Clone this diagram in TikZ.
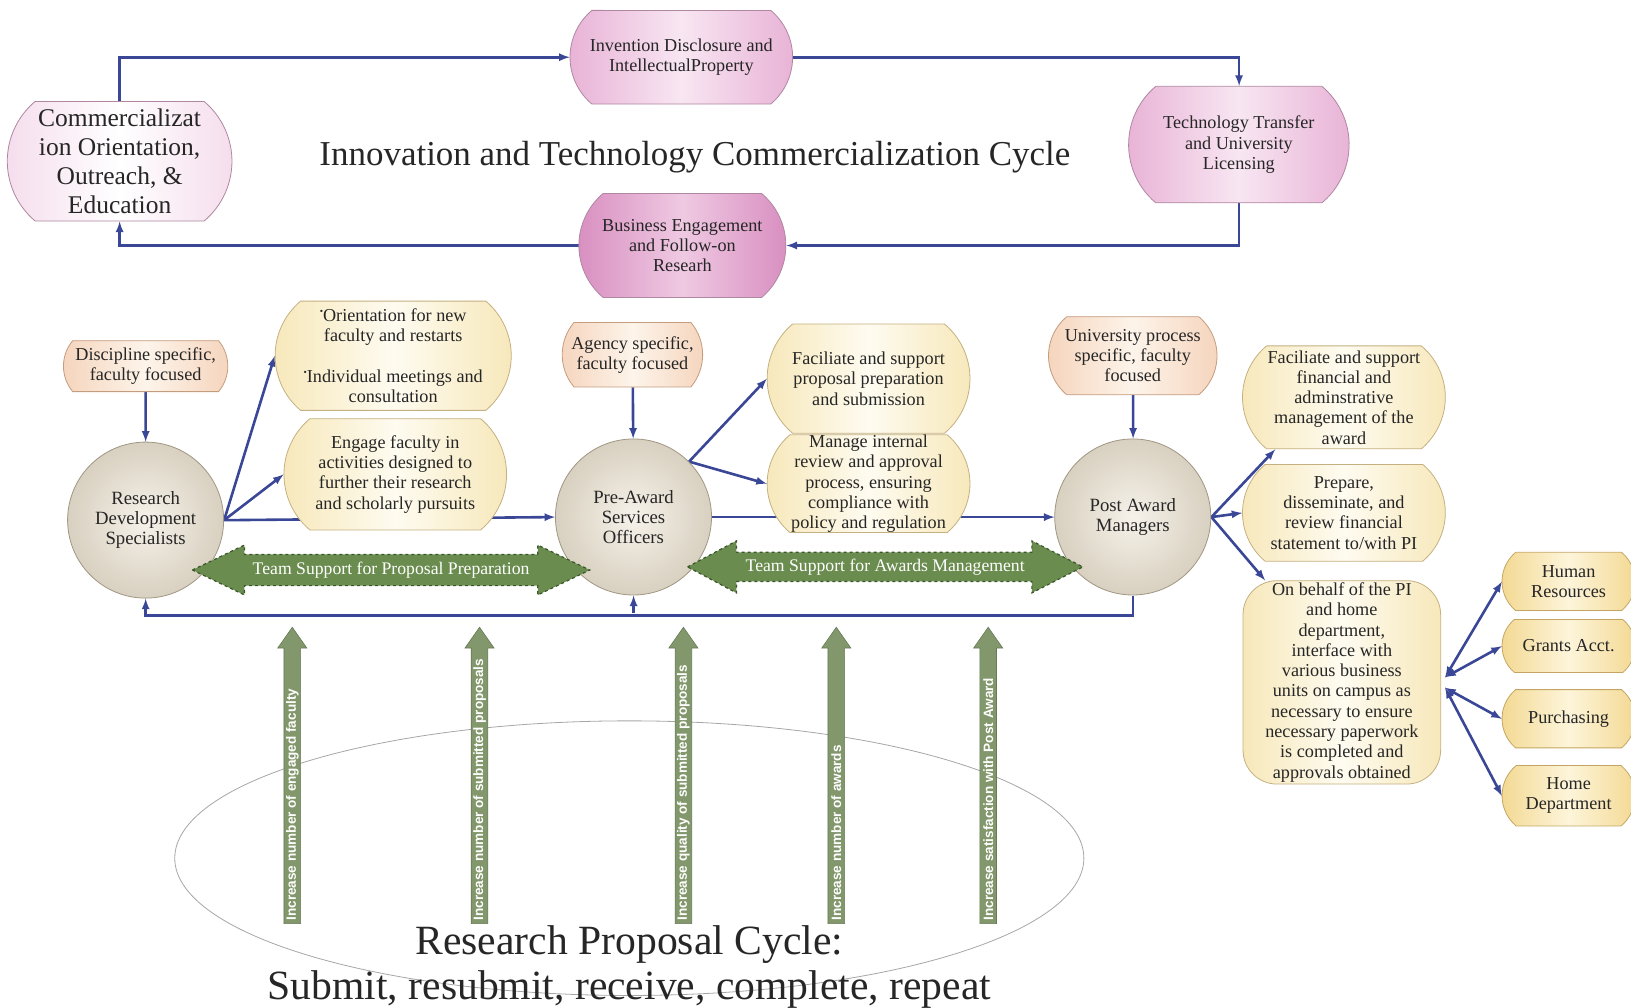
\documentclass[tikz,border=0pt]{standalone}
\usepackage{fontspec}
\setmainfont{Liberation Serif}
\newfontfamily\goalfont{Liberation Sans}
\usetikzlibrary{shapes.misc, backgrounds}

\definecolor{flowblue}{RGB}{58,70,150}
\definecolor{pinkedge}{RGB}{232,178,214}
\definecolor{pinkmid}{RGB}{248,230,242}
\definecolor{pinkdeep}{RGB}{216,142,192}
\definecolor{pinkline}{RGB}{175,135,160}
\definecolor{peachedge}{RGB}{245,212,188}
\definecolor{peachmid}{RGB}{253,244,234}
\definecolor{peachline}{RGB}{196,156,126}
\definecolor{creamedge}{RGB}{247,232,186}
\definecolor{creammid}{RGB}{254,251,240}
\definecolor{creamline}{RGB}{196,176,128}
\definecolor{goldedge}{RGB}{243,216,146}
\definecolor{goldmid}{RGB}{253,245,218}
\definecolor{goldline}{RGB}{196,166,98}
\definecolor{stonein}{RGB}{246,242,234}
\definecolor{stoneout}{RGB}{216,208,192}
\definecolor{stoneline}{RGB}{160,150,130}
\definecolor{teamgreen}{RGB}{106,140,78}
\definecolor{teamline}{RGB}{58,86,42}
\definecolor{goalgreen}{RGB}{130,152,108}

\newcommand{\bulletdot}{\raisebox{0.4em}{\fontsize{9}{9}\selectfont\textbullet}}

\tikzset{
	box/.style={rounded rectangle, rounded rectangle arc length=100, align=center, inner xsep=0pt, inner ysep=2pt, line width=0.8pt, text=black!85, font=\fontsize{17.5}{19.5}\selectfont},
	pinkbox/.style={box, draw=pinkline, left color=pinkedge, right color=pinkedge, middle color=pinkmid},
	peachbox/.style={box, rounded rectangle arc length=80, draw=peachline, left color=peachedge, right color=peachedge, middle color=peachmid},
	creambox/.style={box, draw=creamline, left color=creamedge, right color=creamedge, middle color=creammid},
	goldbox/.style={box, draw=goldline, left color=goldedge, right color=goldedge, middle color=goldmid},
	staff/.style={circle, minimum size=150, inner sep=0pt, draw=stoneline, line width=0.8pt, inner color=stonein, outer color=stoneout, align=center, text=black!85, font=\fontsize{18}{19.5}\selectfont},
	flow/.style={->, flowblue, line width=2.6pt},
	teamarrow/.style={fill=teamgreen, draw=teamline, dashed, line width=1.2pt},
	teamtext/.style={text=white, inner sep=0pt, font=\fontsize{17}{19}\selectfont},
	goalarrow/.style={fill=goalgreen, draw=goalgreen!80!black, line width=0.6pt},
	goaltext/.style={rotate=90, anchor=west, text=white, inner sep=0pt, font=\goalfont\bfseries\fontsize{13}{13}\selectfont},
	cyclering/.style={draw=gray!70, line width=0.8pt},
}

\begin{document}
\begin{tikzpicture}[x=1pt, y=-1pt, scale=1.04, transform shape, >=latex]
		\useasboundingbox (0, 0) rectangle (1568, 969);

		\node [pinkbox, left color=pinkedge!45, right color=pinkedge!45, middle color=white, inner xsep=-3pt, minimum width=210, minimum height=115, font=\fontsize{24.5}{28}\selectfont] (comm) at (115, 155) {Commercializat\\ion Orientation,\\Outreach, \&\\Education};
		\node [pinkbox, minimum width=214, minimum height=90] (invent) at (655, 55) {Invention Disclosure and\\IntellectualProperty};
		\node [pinkbox, minimum width=212, minimum height=112] (tech) at (1191, 139) {Technology Transfer\\and University\\Licensing};
		\node [pinkbox, left color=pinkdeep, right color=pinkdeep, middle color=pinkedge!70, inner xsep=-18pt, minimum width=163, minimum height=100] (business) at (656, 236) {Business Engagement\\and Follow-on\\Researh};
		\node [text=black!85, font=\fontsize{33.6}{40}\selectfont] (title) at (668, 151) {Innovation and Technology Commercialization Cycle};

		\node [peachbox, inner xsep=-4pt, minimum width=150, minimum height=49] (disc) at (140, 352) {Discipline specific,\\faculty focused};
		\node [creambox, minimum width=227, minimum height=105] (orient) at (378, 342) {\bulletdot Orientation for new\\faculty and restarts\\[19.5pt]\bulletdot Individual meetings and\\consultation};
		\node [creambox, minimum width=214, minimum height=107] (engage) at (380, 456) {Engage faculty in\\activities designed to\\further their research\\and scholarly pursuits};
		\node [peachbox, inner xsep=-4pt, minimum width=127, minimum height=62] (agency) at (608, 341) {Agency specific,\\faculty focused};
		\node [creambox, minimum width=195, minimum height=105] (facprop) at (835, 364) {Faciliate and support\\proposal preparation\\and submission};
		\node [creambox, inner ysep=-2pt, minimum width=195, minimum height=94] (manage) at (835, 465) {Manage internal\\review and approval\\process, ensuring\\compliance with\\policy and regulation};
		\node [peachbox, rounded rectangle arc length=100, minimum width=162, minimum height=75] (univ) at (1089, 342) {University process\\specific, faculty\\focused};

		\node [creambox, minimum width=195, minimum height=99] (facfin) at (1292, 382) {Faciliate and support\\financial and\\adminstrative\\management of the\\award};
		\node [creambox, minimum width=195, minimum height=93] (prepare) at (1292, 493) {Prepare,\\disseminate, and\\review financial\\statement to/with PI};
		\node [creambox, rectangle, rounded corners=34pt, inner xsep=2pt, minimum width=190, minimum height=192] (behalf) at (1290, 656) {On behalf of the PI\\and home\\department,\\interface with\\various business\\units on campus as\\necessary to ensure\\necessary paperwork\\is completed and\\approvals obtained};

		\node [goldbox, minimum width=128, minimum height=56] (hr) at (1508, 559) {Human\\Resources};
		\node [goldbox, minimum width=128, minimum height=51] (grants) at (1508, 621) {Grants Acct.};
		\node [goldbox, minimum width=128, minimum height=56] (purch) at (1508, 691) {Purchasing};
		\node [goldbox, minimum width=128, minimum height=58] (homedept) at (1508, 765) {Home\\Department};

		\node [staff] (rd) at (140, 500) {Research\\Development\\Specialists};
		\node [staff] (pa) at (609, 497) {Pre-Award\\Services\\Officers};
		\node [staff] (pm) at (1089, 497) {Post Award\\Managers};

		\coordinate (hubup) at (1389, 651);
		\coordinate (hubdown) at (1389, 661);
		\coordinate (feedback) at (609, 589);

		\begin{scope}[on background layer]
		\draw [flow]	(comm.north) |- (invent.west);
		\draw [flow]	(invent.east) -| (tech.north);
		\draw [flow]	(tech.south) |- (business.east);
		\draw [flow]	(business.west) -| (comm.south);

		\draw [flow]	(disc) to (rd);
		\draw [flow]	(agency) to (pa);
		\draw [flow]	(univ) to (pm);

		\draw [flow]	(rd.east) to (orient.west);
		\draw [flow]	(rd.east) to (engage.west);
		\draw [flow]	(rd.east) to (pa.west);

		\draw [flow]	(pa.north east) to (facprop.west);
		\draw [flow]	(pa.north east) to (manage.west);
		\draw [flow]	(pa.east) to (pm.west);

		\draw [flow]	(pm.east) to (facfin.217);
		\draw [flow]	(pm.east) to (prepare.west);
		\draw [flow]	(pm.east) to (behalf.127);

		\draw [flow, <->]	(hubup) to (hr.west);
		\draw [flow, <->]	(hubup) to (grants.west);
		\draw [flow, <->]	(hubdown) to (purch.west);
		\draw [flow, <->]	(hubdown) to (homedept.west);

		\draw [flow]	(pm.south) -- ++(0, 19) -| (rd.south);
		\draw [flow]	(feedback) to (pa.south);

		\draw [cyclering]	(605, 825) ellipse [x radius=437, y radius=132];
		\end{scope}

		\draw [teamarrow]	(185, 548) -- (235, 524) -- (235, 533) -- (517, 533) -- (517, 524) -- (567, 548) -- (517, 572) -- (517, 563) -- (235, 563) -- (235, 572) -- cycle;
		\node [teamtext] (proposalteam) at (376, 548) {Team Support for Proposal Preparation};
		\draw [teamarrow]	(661, 545) -- (708, 520) -- (708, 531) -- (992, 531) -- (992, 520) -- (1041, 545) -- (992, 570) -- (992, 559) -- (708, 559) -- (708, 570) -- cycle;
		\node [teamtext] (awardsteam) at (851, 545) {Team Support for Awards Management};

		\draw [goalarrow]	(273, 888) -- (273, 623) -- (267, 623) -- (281, 603) -- (295, 623) -- (289, 623) -- (289, 888) -- cycle;
		\draw [goalarrow]	(453, 888) -- (453, 623) -- (447, 623) -- (461, 603) -- (475, 623) -- (469, 623) -- (469, 888) -- cycle;
		\draw [goalarrow]	(649, 888) -- (649, 623) -- (643, 623) -- (657, 603) -- (671, 623) -- (665, 623) -- (665, 888) -- cycle;
		\draw [goalarrow]	(796, 888) -- (796, 623) -- (790, 623) -- (804, 603) -- (818, 623) -- (812, 623) -- (812, 888) -- cycle;
		\draw [goalarrow]	(942, 888) -- (942, 623) -- (936, 623) -- (950, 603) -- (964, 623) -- (958, 623) -- (958, 888) -- cycle;

		\node [goaltext] (goalfaculty) at (281, 885) {Increase number of engaged faculty};
		\node [goaltext] (goalsubmitted) at (461, 885) {Increase number of submitted proposals};
		\node [goaltext] (goalquality) at (657, 885) {Increase quality of submitted proposals};
		\node [goaltext] (goalawards) at (804, 885) {Increase number of awards};
		\node [goaltext] (goalpost) at (950, 885) {Increase satisfaction with Post Award};

		\node [text=black!85, font=\fontsize{40}{43}\selectfont] (cyclename) at (605, 908) {Research Proposal Cycle:};
		\node [text=black!85, font=\fontsize{40}{43}\selectfont] (cyclesteps) at (605, 951) {Submit, resubmit, receive, complete, repeat};
\end{tikzpicture}
\end{document}
